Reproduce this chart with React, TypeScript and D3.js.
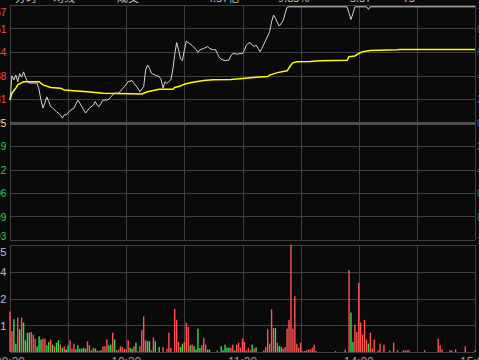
import * as d3 from 'd3'
import * as React from 'react'

const prevClose = 3.25
const priceTicks = ['3.57', '3.51', '3.44', '3.38', '3.31', '3.25', '3.19', '3.12', '3.06', '2.99', '2.93']
const pctTicks = ['10.00%', '8.00%', '6.00%', '4.00%', '2.00%', '0.00%', '2.00%', '4.00%', '6.00%', '8.00%', '10.00%']
const volumeMax = 4485
const volumeTicks = ['4485', '3364', '2242', '1121']
const timeTicks: [number, string][] = [[0, '09:30'], [60, '10:30'], [120, '11:30'], [180, '14:00'], [240, '15:00']]
const headerItems: [number, string][] = [[15, '分时'], [53, '均线'], [117, '成交'], [207, '4.37亿'], [278, '9.85%'], [350, '3.57'], [403, '75']]

// [minute, price]
const priceTrace: [number, number][] = [
  [0, 3.312], [1, 3.379], [2, 3.368], [3, 3.381], [4, 3.363], [5, 3.385], [6, 3.376], [7, 3.390], [8, 3.375], [9, 3.363],
  [10, 3.359], [12, 3.359], [14, 3.359], [15, 3.340], [16, 3.312], [17, 3.290], [18, 3.304], [19, 3.321], [20, 3.308],
  [21, 3.294], [22, 3.290], [24, 3.280], [26, 3.271], [27, 3.262], [28, 3.271], [29, 3.271], [31, 3.283], [33, 3.290],
  [35, 3.312], [36, 3.304], [38, 3.285], [39, 3.276], [41, 3.290], [43, 3.298], [44, 3.308], [45, 3.298], [46, 3.294],
  [48, 3.312], [50, 3.312], [51, 3.314], [52, 3.321], [54, 3.331], [56, 3.331], [59, 3.349], [61, 3.363], [63, 3.366],
  [64, 3.358], [66, 3.345], [67, 3.335], [69, 3.349], [70, 3.395], [71, 3.409], [72, 3.400], [73, 3.386], [75, 3.381],
  [77, 3.377], [78, 3.368], [79, 3.345], [80, 3.363], [81, 3.358], [82, 3.363], [83, 3.368], [84, 3.395], [85, 3.437],
  [86, 3.471], [87, 3.451], [88, 3.426], [89, 3.421], [90, 3.451], [91, 3.475], [92, 3.471], [94, 3.463], [96, 3.452],
  [97, 3.444], [98, 3.451], [100, 3.455], [102, 3.460], [103, 3.455], [105, 3.451], [106, 3.452], [107, 3.441],
  [108, 3.430], [109, 3.425], [111, 3.421], [113, 3.423], [114, 3.434], [115, 3.441], [117, 3.439], [120, 3.441],
  [121, 3.450], [122, 3.464], [123, 3.469], [124, 3.471], [125, 3.464], [126, 3.460], [127, 3.464], [128, 3.455],
  [129, 3.446], [130, 3.455], [132, 3.478], [134, 3.501], [135, 3.529], [136, 3.547], [137, 3.538], [138, 3.526],
  [139, 3.517], [141, 3.532], [142, 3.552], [143, 3.569], [144, 3.570], [174, 3.570], [175, 3.552], [176, 3.535],
  [177, 3.552], [178, 3.570], [184, 3.570], [185, 3.563], [186, 3.570], [240, 3.570],
]

// [minute, average price]
const avgTrace: [number, number][] = [
  [0, 3.312], [1, 3.331], [3, 3.345], [4, 3.354], [7, 3.363], [15, 3.363], [17, 3.354], [21, 3.347], [26, 3.345],
  [28, 3.340], [33, 3.338], [40, 3.335], [48, 3.331], [55, 3.330], [68, 3.329], [71, 3.335], [77, 3.342], [84, 3.342],
  [85, 3.347], [88, 3.351], [90, 3.356], [93, 3.360], [96, 3.363], [100, 3.366], [105, 3.368], [114, 3.369],
  [120, 3.372], [127, 3.375], [133, 3.377], [134, 3.381], [138, 3.388], [143, 3.393], [145, 3.409], [146, 3.415],
  [148, 3.418], [155, 3.419], [160, 3.421], [174, 3.422], [175, 3.432], [178, 3.434], [180, 3.441], [182, 3.446],
  [186, 3.449], [200, 3.451], [201, 3.452], [240, 3.452],
]

// [minute, hands, r = up / g = down / w = flat]
const volumeBars: [number, number, string][] = [
  [0, 1700, 'r'], [1, 870, 'r'], [2, 1370, 'g'], [3, 350, 'g'], [4, 1440, 'r'], [5, 950, 'g'], [6, 1440, 'r'],
  [7, 1230, 'g'], [8, 490, 'g'], [9, 810, 'g'], [10, 810, 'g'], [11, 840, 'r'], [12, 730, 'r'], [13, 560, 'r'],
  [14, 240, 'g'], [15, 660, 'g'], [16, 520, 'g'], [17, 560, 'r'], [18, 560, 'r'], [19, 280, 'g'], [20, 420, 'g'],
  [21, 520, 'r'], [22, 310, 'g'], [23, 240, 'r'], [24, 390, 'g'], [25, 490, 'g'], [26, 310, 'r'], [27, 170, 'g'],
  [28, 240, 'r'], [29, 100, 'w'], [30, 280, 'g'], [31, 490, 'r'], [32, 140, 'r'], [33, 350, 'r'], [34, 110, 'g'],
  [35, 280, 'g'], [36, 140, 'g'], [37, 140, 'g'], [38, 180, 'g'], [39, 140, 'g'], [40, 450, 'r'], [41, 280, 'r'],
  [42, 70, 'g'], [43, 180, 'r'], [44, 140, 'g'], [45, 70, 'r'], [46, 40, 'g'], [47, 70, 'g'], [48, 240, 'r'],
  [49, 240, 'r'], [50, 530, 'r'], [51, 280, 'g'], [52, 310, 'g'], [53, 810, 'r'], [54, 530, 'g'], [55, 70, 'g'],
  [56, 100, 'r'], [57, 240, 'r'], [58, 210, 'r'], [59, 140, 'r'], [60, 110, 'r'], [61, 490, 'r'], [62, 180, 'g'],
  [63, 140, 'g'], [64, 240, 'r'], [65, 390, 'g'], [66, 30, 'r'], [67, 240, 'r'], [68, 910, 'r'], [69, 1490, 'r'],
  [70, 490, 'r'], [71, 450, 'g'], [72, 450, 'g'], [73, 70, 'r'], [74, 610, 'r'], [75, 450, 'g'],
  [77, 210, 'g'], [79, 210, 'r'], [81, 140, 'r'], [82, 810, 'r'], [83, 170, 'r'], [85, 1810, 'r'], [86, 1350, 'r'],
  [87, 420, 'r'], [88, 210, 'g'], [89, 350, 'g'], [90, 420, 'r'], [91, 1230, 'r'], [92, 1050, 'r'], [93, 280, 'g'],
  [94, 310, 'r'], [95, 250, 'g'], [96, 100, 'g'], [97, 980, 'g'], [98, 170, 'g'], [99, 280, 'r'], [100, 600, 'r'],
  [101, 310, 'r'], [102, 100, 'g'], [103, 100, 'g'], [107, 60, 'r'], [109, 240, 'g'], [110, 70, 'g'], [111, 310, 'g'],
  [112, 180, 'g'], [113, 180, 'g'], [114, 180, 'r'], [115, 310, 'r'], [116, 70, 'g'], [117, 310, 'r'], [118, 390, 'r'],
  [119, 180, 'r'], [120, 560, 'r'], [121, 420, 'r'], [122, 70, 'r'], [123, 170, 'r'], [124, 70, 'r'], [125, 310, 'g'],
  [126, 140, 'r'], [127, 200, 'g'], [131, 70, 'r'], [132, 210, 'r'], [133, 950, 'r'], [134, 350, 'r'], [135, 1790, 'r'],
  [136, 1000, 'r'], [137, 1000, 'g'], [138, 390, 'r'], [139, 250, 'g'], [140, 220, 'g'], [141, 140, 'r'], [142, 210, 'r'],
  [143, 980, 'r'], [144, 1350, 'r'], [145, 4490, 'r'], [146, 980, 'r'], [147, 2340, 'r'], [148, 350, 'r'], [149, 180, 'r'],
  [150, 390, 'r'], [151, 40, 'r'], [152, 40, 'r'], [153, 70, 'r'], [154, 100, 'r'], [155, 100, 'r'], [156, 180, 'r'],
  [157, 310, 'r'], [158, 40, 'r'],
  [168, 40, 'r'], [173, 100, 'r'], [175, 3440, 'r'], [176, 1650, 'g'], [177, 420, 'g'], [178, 1140, 'r'], [179, 840, 'r'],
  [180, 2900, 'r'], [181, 1230, 'r'], [182, 730, 'r'], [183, 1350, 'r'], [184, 520, 'r'], [185, 350, 'g'], [186, 810, 'r'],
  [187, 140, 'r'], [188, 520, 'r'], [190, 70, 'r'], [191, 350, 'r'], [193, 310, 'r'], [196, 70, 'r'], [198, 390, 'r'],
  [200, 70, 'r'], [203, 70, 'r'], [204, 70, 'r'], [205, 70, 'r'], [206, 70, 'r'], [214, 70, 'r'], [221, 560, 'r'],
  [222, 280, 'r'], [223, 110, 'r'], [227, 70, 'r'], [228, 70, 'r'], [230, 110, 'r'], [235, 240, 'r'], [240, 70, 'r'],
]

const W = 479
const H = 360
const left = 10
const right = 475
const priceTop = 5
const priceBottom = 240
const volTop = 245
const volBottom = 352

const barColor: { [k: string]: string } = { r: '#ff5252', g: '#36dc52', w: '#c8c8c8' }
const gridColor = '#3f3f3f'
const px = (v: number) => Math.round(v) + 0.5

export default function App() {
  const node = React.useRef<SVGSVGElement>(null)

  React.useEffect(() => {
    const svg = d3.select(node.current!)
    svg.selectAll('*').remove()

    const x = d3.scaleLinear().domain([0, 240]).range([left, right])
    const yPrice = d3.scaleLinear().domain([prevClose * 0.9, prevClose * 1.1]).range([priceBottom, priceTop])
    const yVol = d3.scaleLinear().domain([0, volumeMax]).range([volBottom, volTop])

    svg.append('rect').attr('width', W).attr('height', H).attr('fill', '#0a0a0a')

    // header strip, mostly cut off by the top of the window
    svg.append('g').selectAll('text').data(headerItems).enter().append('text')
      .attr('x', d => d[0]).attr('y', 2)
      .attr('fill', '#bdbdbd').attr('font-size', 11)
      .attr('font-family', '"Noto Sans CJK SC", "Liberation Sans", sans-serif')
      .text(d => d[1])

    // grid
    const grid = svg.append('g').attr('stroke', gridColor).attr('stroke-width', 1).attr('shape-rendering', 'crispEdges')
    const priceLevels = d3.range(11).map(i => prevClose * (1.1 - i * 0.02))
    grid.selectAll('line.h').data(priceLevels).enter().append('line')
      .attr('x1', left).attr('x2', right)
      .attr('y1', d => px(yPrice(d))).attr('y2', d => px(yPrice(d)))
    const volLevels = d3.range(5).map(i => volumeMax * i / 4)
    grid.selectAll('line.v').data(volLevels).enter().append('line')
      .attr('x1', left).attr('x2', right)
      .attr('y1', d => px(yVol(d))).attr('y2', d => px(yVol(d)))
    const cols = d3.range(9).map(i => i * 30)
    grid.selectAll('line.cp').data(cols).enter().append('line')
      .attr('x1', d => px(x(d))).attr('x2', d => px(x(d)))
      .attr('y1', priceTop).attr('y2', priceBottom)
    grid.selectAll('line.cv').data(cols).enter().append('line')
      .attr('x1', d => px(x(d))).attr('x2', d => px(x(d)))
      .attr('y1', volTop).attr('y2', volBottom)

    // previous close
    svg.append('rect')
      .attr('x', left).attr('width', right - left)
      .attr('y', Math.round(yPrice(prevClose)) - 1).attr('height', 3)
      .attr('fill', '#4e4e4e')

    // left price labels, only the last digit shows
    svg.append('g').selectAll('text').data(priceTicks).enter().append('text')
      .attr('x', 6.3)
      .attr('y', (d, i) => {
        const y = yPrice(priceLevels[i])
        return i === 0 ? y + 11 : i === 10 ? y : y + 4
      })
      .attr('text-anchor', 'end')
      .attr('font-size', 10)
      .attr('font-family', '"Liberation Sans", Arial, sans-serif')
      .attr('fill', (d, i) => i < 5 ? '#ff4848' : i === 5 ? '#e6e0d8' : '#2fd04e')
      .text(d => d)

    // right percent labels
    svg.append('g').selectAll('text').data(pctTicks).enter().append('text')
      .attr('x', 477)
      .attr('y', (d, i) => yPrice(priceLevels[i]) + 4)
      .attr('font-size', 10)
      .attr('font-family', '"Liberation Sans", Arial, sans-serif')
      .attr('fill', (d, i) => i < 5 ? '#1f4f9a' : i === 5 ? '#1a5cf0' : '#127a66')
      .text(d => d)

    // volume labels
    svg.append('g').selectAll('text').data(volumeTicks).enter().append('text')
      .attr('x', 6.3)
      .attr('y', (d, i) => {
        const y = yVol(volumeMax * (4 - i) / 4)
        return i === 0 ? y + 11 : y + 4.5
      })
      .attr('text-anchor', 'end')
      .attr('font-size', 11)
      .attr('font-family', '"Liberation Sans", Arial, sans-serif')
      .attr('fill', '#b6c2dc')
      .text(d => d)

    // time labels, bottom edge
    svg.append('g').selectAll('text').data(timeTicks).enter().append('text')
      .attr('x', d => x(d[0])).attr('y', 366)
      .attr('text-anchor', 'middle')
      .attr('font-size', 12)
      .attr('font-family', '"Liberation Sans", Arial, sans-serif')
      .attr('fill', '#9a9a9a')
      .text(d => d[1])

    // volume bars
    svg.append('g').selectAll('rect').data(volumeBars).enter().append('rect')
      .attr('x', d => x(d[0]) - 0.7)
      .attr('width', 1.4)
      .attr('y', d => yVol(d[1]))
      .attr('height', d => volBottom - yVol(d[1]))
      .attr('fill', d => barColor[d[2]])

    const line = d3.line<[number, number]>().x(d => x(d[0])).y(d => yPrice(d[1])).curve(d3.curveLinear)

    svg.append('path').datum(avgTrace)
      .attr('d', line)
      .attr('fill', 'none').attr('stroke', '#ffff00').attr('stroke-width', 1.5)

    svg.append('path').datum(priceTrace)
      .attr('d', line)
      .attr('fill', 'none').attr('stroke', '#d4d4d4').attr('stroke-width', 1)
  }, [])

  return <svg ref={node} width={W} height={H} style={{ position: 'fixed', left: 0, top: 0, display: 'block' }} />
}
